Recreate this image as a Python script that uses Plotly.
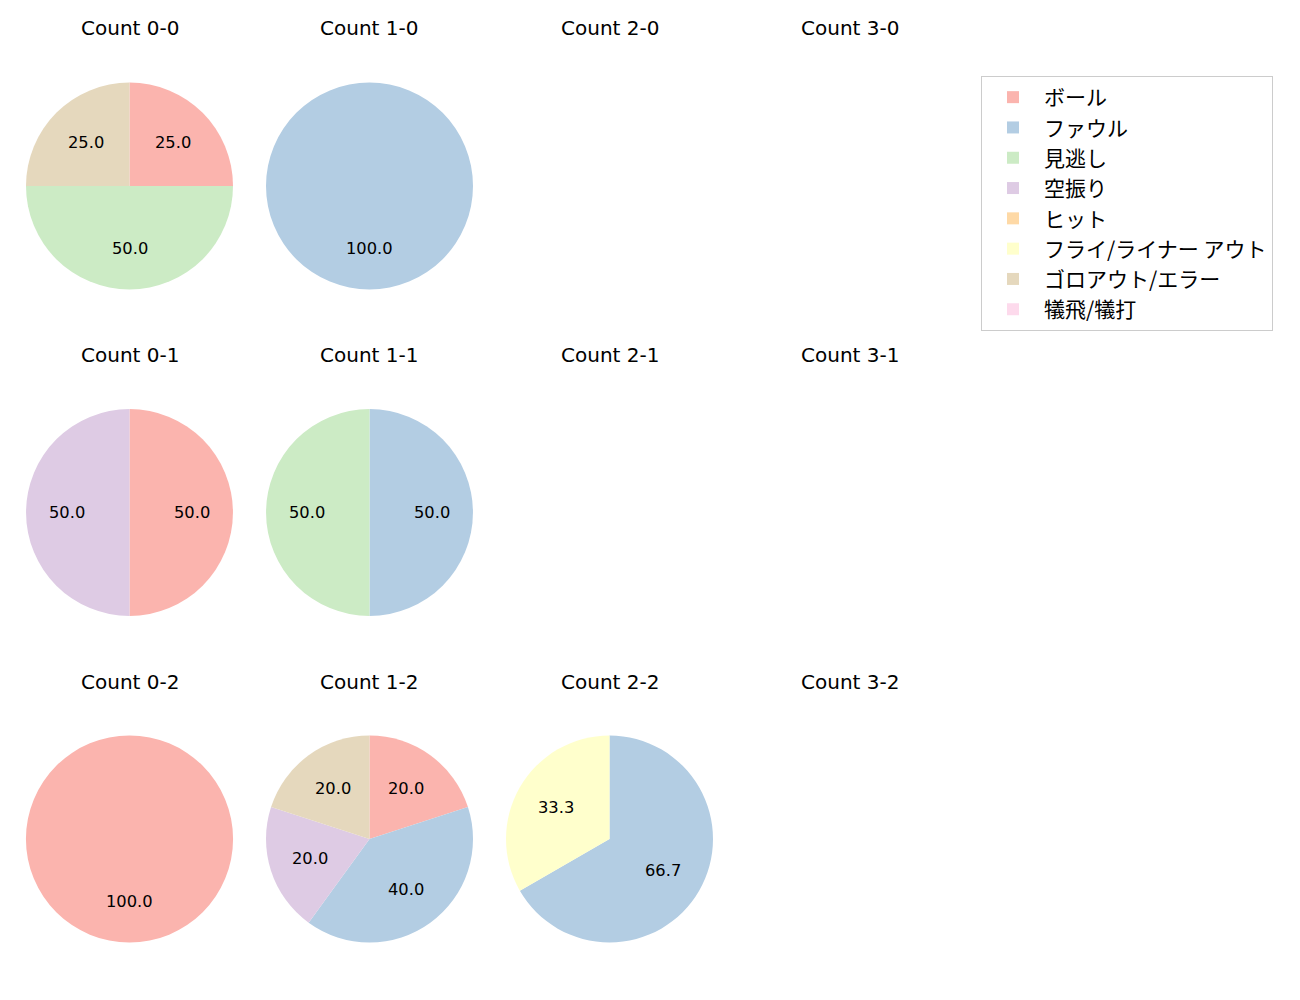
import math
import plotly.graph_objects as go

# ---- data ----
labels = ["ボール", "ファウル", "見逃し", "空振り", "ヒット",
          "フライ/ライナー アウト", "ゴロアウト/エラー", "犠飛/犠打"]
colors = ["#fbb4ae", "#b3cde3", "#ccebc5", "#decbe4", "#fed9a6",
          "#ffffcc", "#e5d8bd", "#fddaec"]
balls = [0, 1, 2, 3]
strikes = [0, 1, 2]
# values per count (order matches labels); missing = no pitches
counts = {
    (0, 0): [1, 0, 2, 0, 0, 0, 1, 0],
    (1, 0): [0, 1, 0, 0, 0, 0, 0, 0],
    (0, 1): [1, 0, 0, 1, 0, 0, 0, 0],
    (1, 1): [0, 1, 1, 0, 0, 0, 0, 0],
    (0, 2): [1, 0, 0, 0, 0, 0, 0, 0],
    (1, 2): [1, 2, 0, 1, 0, 0, 1, 0],
    (2, 2): [0, 2, 0, 0, 0, 1, 0, 0],
}

# ---- layout geometry (pixels within the figure) ----
W, H = 1300, 1000
OFF = 8  # page body margin
col_x0, col_dx = 129.5 - OFF, 240.0
row_y0, row_dy = 186.0 - OFF, 326.5
R = 103.5
title_y0 = 28.5 - OFF
FONT = "DejaVu Sans, Noto Sans CJK JP"
LFONT = "Noto Sans CJK JP"

fig = go.Figure()
annotations = []
for s in strikes:
    for b in balls:
        cx = col_x0 + col_dx * b
        cy = row_y0 + row_dy * s
        annotations.append(dict(
            text=f"Count {b}-{s}", x=cx / W, y=1 - (title_y0 + row_dy * s) / H,
            xref="paper", yref="paper", showarrow=False,
            xanchor="center", yanchor="middle",
            font=dict(size=20, color="#000000", family=FONT)))
        vals = counts.get((b, s))
        if vals is None:
            continue
        fig.add_trace(go.Pie(
            labels=labels, values=vals, sort=False, direction="clockwise",
            rotation=0, marker=dict(colors=colors, line=dict(width=0)),
            textinfo="none", hoverinfo="label+percent",
            domain=dict(x=[(cx - R) / W, (cx + R) / W],
                        y=[1 - (cy + R) / H, 1 - (cy - R) / H]),
            showlegend=True,
        ))
        total = sum(vals)
        acc = 0.0
        for v in vals:
            if v <= 0:
                continue
            mid = (acc + v / 2) / total * 2 * math.pi
            acc += v
            px = cx + 0.6 * R * math.sin(mid)
            py = cy - 0.6 * R * math.cos(mid)
            annotations.append(dict(
                text=f"{v / total * 100:.1f}", x=px / W, y=1 - py / H,
                xref="paper", yref="paper", showarrow=False,
                xanchor="center", yanchor="middle",
                font=dict(size=16.3, color="#000000", family=FONT)))

fig.update_layout(
    width=W, height=H,
    margin=dict(l=0, r=0, t=0, b=0),
    paper_bgcolor="white", plot_bgcolor="white",
    font=dict(family=FONT, color="#000000"),
    annotations=annotations,
    legend=dict(
        x=(981 - OFF) / W, y=1 - (76 - OFF) / H, xanchor="left", yanchor="top",
        bgcolor="rgba(255,255,255,0.8)", bordercolor="#cccccc", borderwidth=1,
        font=dict(size=21, family=LFONT, color="#000000"),
        tracegroupgap=0, itemwidth=52,
    ),
)

fig.write_html("out.html")
